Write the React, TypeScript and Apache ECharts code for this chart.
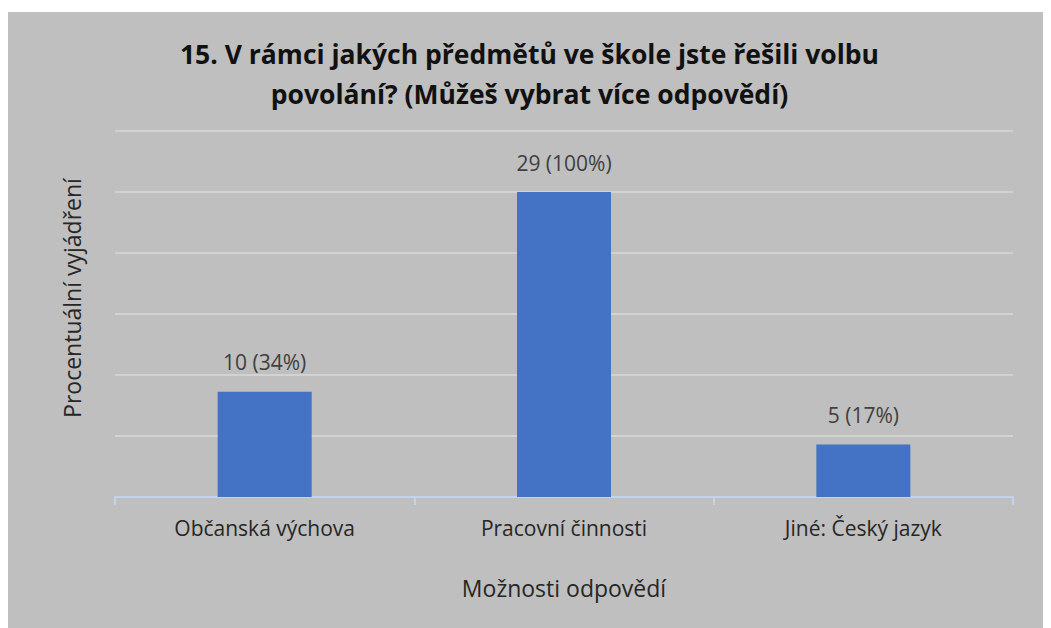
import React, { useEffect, useRef } from "react";
import * as echarts from "echarts";

const categories = ["Občanská výchova", "Pracovní činnosti", "Jiné: Český jazyk"];
const counts = [10, 29, 5];
const percents = [34.48, 100, 17.24];
const percentLabels = ["34%", "100%", "17%"];
const titleText = "15. V rámci jakých předmětů ve škole jste řešili volbu\npovolání? (Můžeš vybrat více odpovědí)";
const yName = "Procentuální vyjádření";
const xName = "Možnosti odpovědí";

const FONT = "'Open Sans', sans-serif";

export default function App() {
  const ref = useRef<HTMLDivElement>(null);
  useEffect(() => {
    if (!ref.current) return;
    const chart = echarts.init(ref.current, undefined, { renderer: "svg" });
    chart.setOption({
      animation: false,
      backgroundColor: "#bfbfbf",
      title: {
        text: titleText,
        left: "center",
        top: 17,
        textStyle: {
          fontFamily: FONT,
          fontSize: 26.5,
          fontWeight: "bold",
          color: "#111111",
          lineHeight: 40,
        },
      },
      grid: { left: 107, right: 38, top: 119, bottom: 131, containLabel: false },
      xAxis: {
        type: "category",
        data: categories,
        name: xName,
        nameLocation: "middle",
        nameGap: 79,
        nameTextStyle: { fontFamily: FONT, fontSize: 23, color: "#262626" },
        axisLine: { lineStyle: { color: "#c3d3ee", width: 2 } },
        axisTick: { show: true, length: 8, lineStyle: { color: "#c3d3ee", width: 2 } },
        axisLabel: { fontFamily: FONT, fontSize: 21, color: "#262626", margin: 20 },
      },
      yAxis: {
        type: "value",
        min: 0,
        max: 120,
        interval: 20,
        axisLabel: { show: false },
        axisLine: { show: false },
        axisTick: { show: false },
        splitLine: { lineStyle: { color: "#d9d9d9", width: 1.5 } },
      },
      graphic: [
        {
          type: "text",
          x: 64,
          y: 286,
          rotation: Math.PI / 2,
          style: {
            text: yName,
            fontFamily: FONT,
            fontSize: 23,
            fill: "#262626",
            align: "center",
            verticalAlign: "middle",
          },
        },
      ],
      series: [
        {
          type: "bar",
          data: percents,
          barWidth: 94,
          itemStyle: { color: "#4472c4" },
          label: {
            show: true,
            position: "top",
            distance: 19,
            fontFamily: FONT,
            fontSize: 21,
            color: "#404040",
            formatter: (p: any) => `${counts[p.dataIndex]} (${percentLabels[p.dataIndex]})`,
          },
        },
      ],
    });
    return () => chart.dispose();
  }, []);
  return (
    <div
      ref={ref}
      style={{ width: 1043, height: 616, marginTop: 4 }}
    />
  );
}
